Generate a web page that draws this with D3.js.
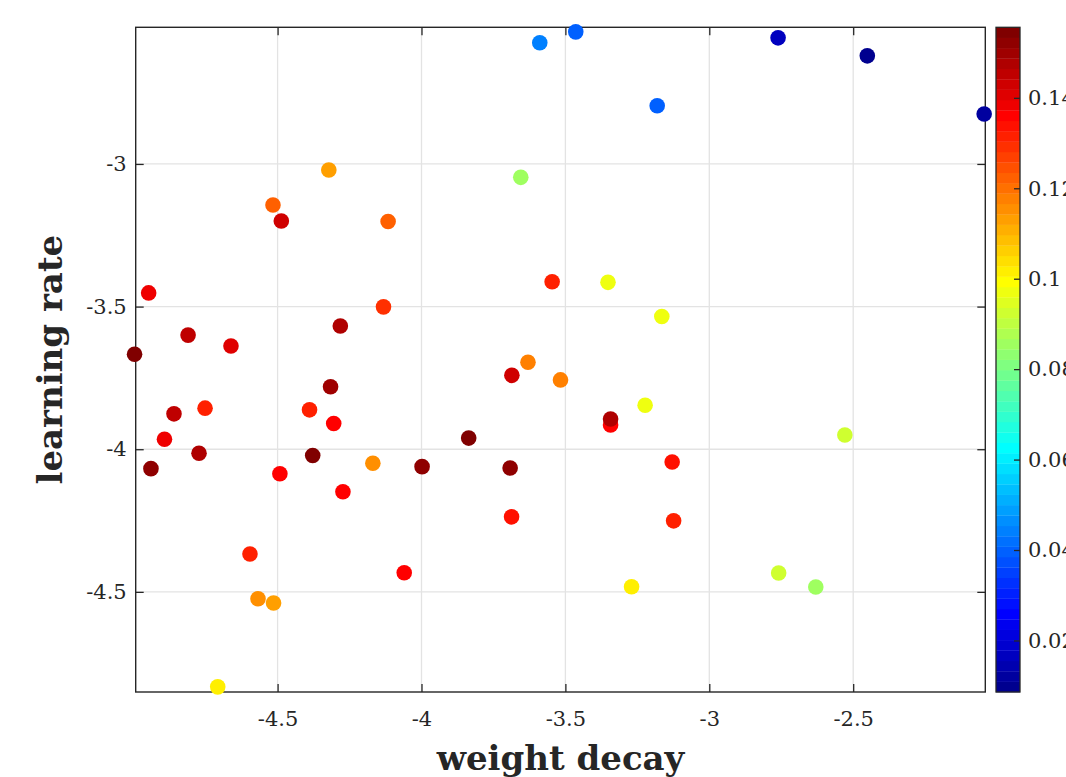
<!DOCTYPE html>
<html lang="en">
<head>
<meta charset="UTF-8">
<title>learning rate vs weight decay</title>
<script src="https://cdn.jsdelivr.net/npm/d3@7"></script>
<style>
    body { margin: 0; background: #fff; }
    svg { display: block; }
    .tick text, .cblabel { font-family: 'DejaVu Serif', serif; font-size: 21px; fill: #262626; }
    .axlabel { font-family: 'DejaVu Serif', serif; font-weight: bold; font-size: 34px; fill: #262626; }
    .domain { display: none; }
    .tick line { stroke: #262626; stroke-width: 1.3; }
</style>
</head>
<body>
<svg id="fig" width="1066" height="777"></svg>
<script>
// data (log10 values)
const weightDecay = [-3.589, -3.464, -3.181, -3.655, -2.761, -2.451, -2.045, -4.322, -4.516, -4.487,
    -4.116, -4.948, -4.132, -4.282, -4.811, -4.662, -4.997, -4.316, -4.860, -4.752,
    -4.389, -4.305, -4.893, -4.773, -4.378, -4.940, -4.492, -4.169, -4.273, -4.596,
    -4.060, -4.568, -4.514, -4.708, -3.546, -3.352, -3.165, -3.630, -3.686, -3.517,
    -3.223, -3.343, -3.343, -3.836, -3.998, -3.692, -3.129, -3.687, -3.124, -3.270,
    -2.529, -2.759, -2.630]
const learningRate = [-2.575, -2.537, -2.796, -3.047, -2.558, -2.621, -2.825, -3.021, -3.144, -3.200,
    -3.202, -3.452, -3.501, -3.568, -3.600, -3.638, -3.667, -3.781, -3.876, -3.856,
    -3.862, -3.910, -3.965, -4.014, -4.022, -4.068, -4.086, -4.049, -4.149, -4.367,
    -4.433, -4.524, -4.539, -4.833, -3.413, -3.415, -3.535, -3.695, -3.741, -3.757,
    -3.846, -3.915, -3.894, -3.961, -4.061, -4.066, -4.045, -4.237, -4.251, -4.482,
    -3.950, -4.434, -4.483]
const colorVal = [0.0442, 0.0396, 0.0396, 0.0856, 0.0166, 0.0097, 0.0120, 0.1131, 0.1223, 0.1430,
    0.1223, 0.1384, 0.1292, 0.1476, 0.1453, 0.1407, 0.1545, 0.1499, 0.1453, 0.1315,
    0.1315, 0.1361, 0.1384, 0.1476, 0.1545, 0.1522, 0.1361, 0.1154, 0.1361, 0.1315,
    0.1361, 0.1154, 0.1131, 0.1016, 0.1315, 0.0970, 0.0970, 0.1177, 0.1430, 0.1177,
    0.0970, 0.1361, 0.1476, 0.1545, 0.1522, 0.1522, 0.1338, 0.1338, 0.1315, 0.1016,
    0.0925, 0.0925, 0.0856]

const xTicks = [-4.5, -4, -3.5, -3, -2.5]
const yTicks = [-4.5, -4, -3.5, -3]
const cTicks = [0.02, 0.04, 0.06, 0.08, 0.1, 0.12, 0.14]
const xLim = [-4.993, -2.041]
const yLim = [-4.851, -2.521]
const cLim = [0.0086, 0.1556]

const pLeft = 135.7, pRight = 985.3, pTop = 27.3, pBottom = 692
const ink = '#262626'

// matlab jet(64)
function jet(k) {
    k = k + 1
    let r = k <= 24 ? 0 : k <= 40 ? (k - 24) / 16 : k <= 55 ? 1 : (72 - k) / 16
    let g = k <= 8 ? 0 : k <= 24 ? (k - 8) / 16 : k <= 39 ? 1 : k <= 55 ? (56 - k) / 16 : 0
    let b = k <= 8 ? (k + 8) / 16 : k <= 23 ? 1 : k <= 39 ? (40 - k) / 16 : 0
    return d3.rgb(r * 255, g * 255, b * 255).formatHex()
}
function colorOf(v) {
    let i = Math.floor((v - cLim[0]) / (cLim[1] - cLim[0]) * 64)
    return jet(Math.max(0, Math.min(63, i)))
}

let svg = d3.select('#fig')
let x = d3.scaleLinear().domain(xLim).range([pLeft, pRight])
let y = d3.scaleLinear().domain(yLim).range([pBottom, pTop])

// grid
svg.append('g').selectAll('line').data(xTicks).join('line')
    .attr('x1', d => x(d)).attr('x2', d => x(d))
    .attr('y1', pTop).attr('y2', pBottom)
    .attr('stroke', '#e3e3e3').attr('stroke-width', 1.3)
svg.append('g').selectAll('line').data(yTicks).join('line')
    .attr('x1', pLeft).attr('x2', pRight)
    .attr('y1', d => y(d)).attr('y2', d => y(d))
    .attr('stroke', '#e3e3e3').attr('stroke-width', 1.3)

// axes, ticks inward on all four sides
let fmt = d => String(d)
svg.append('g').attr('transform', `translate(0,${pBottom})`)
    .call(d3.axisBottom(x).tickValues(xTicks).tickFormat(fmt).tickSizeInner(-8).tickSizeOuter(0).tickPadding(19))
svg.append('g').attr('transform', `translate(0,${pTop})`)
    .call(d3.axisTop(x).tickValues(xTicks).tickFormat('').tickSizeInner(-8).tickSizeOuter(0))
svg.append('g').attr('transform', `translate(${pLeft},0)`)
    .call(d3.axisLeft(y).tickValues(yTicks).tickFormat(fmt).tickSizeInner(-8).tickSizeOuter(0).tickPadding(9))
svg.append('g').attr('transform', `translate(${pRight},0)`)
    .call(d3.axisRight(y).tickValues(yTicks).tickFormat('').tickSizeInner(-8).tickSizeOuter(0))
svg.selectAll('.tick text').attr('fill', ink)

svg.append('rect')
    .attr('x', pLeft).attr('y', pTop)
    .attr('width', pRight - pLeft).attr('height', pBottom - pTop)
    .attr('fill', 'none').attr('stroke', ink).attr('stroke-width', 1.4)

// points
svg.append('g').selectAll('circle').data(weightDecay).join('circle')
    .attr('cx', d => x(d))
    .attr('cy', (d, i) => y(learningRate[i]))
    .attr('r', 7.8)
    .attr('fill', (d, i) => colorOf(colorVal[i]))

// labels
svg.append('text').attr('class', 'axlabel')
    .attr('x', (pLeft + pRight) / 2).attr('y', 770)
    .attr('text-anchor', 'middle')
    .text('weight decay')
svg.append('text').attr('class', 'axlabel')
    .attr('transform', `translate(62,${(pTop + pBottom) / 2}) rotate(-90)`)
    .attr('text-anchor', 'middle')
    .text('learning rate')

// colorbar
let cbX = 996, cbW = 24
let cy = d3.scaleLinear().domain(cLim).range([pBottom, pTop])
let bands = d3.range(64)
let bandH = (pBottom - pTop) / 64
svg.append('g').selectAll('rect').data(bands).join('rect')
    .attr('x', cbX).attr('width', cbW)
    .attr('y', d => pBottom - (d + 1) * bandH)
    .attr('height', bandH + 0.3)
    .attr('fill', d => jet(d))
svg.append('g').attr('transform', `translate(${cbX + cbW},0)`)
    .call(d3.axisRight(cy).tickValues(cTicks).tickFormat(d => String(+d.toFixed(2)))
        .tickSizeInner(-6).tickSizeOuter(0).tickPadding(8))
    .selectAll('text').attr('class', 'cblabel')
svg.append('rect')
    .attr('x', cbX).attr('y', pTop)
    .attr('width', cbW).attr('height', pBottom - pTop)
    .attr('fill', 'none').attr('stroke', ink).attr('stroke-width', 1.3)
</script>
</body>
</html>
